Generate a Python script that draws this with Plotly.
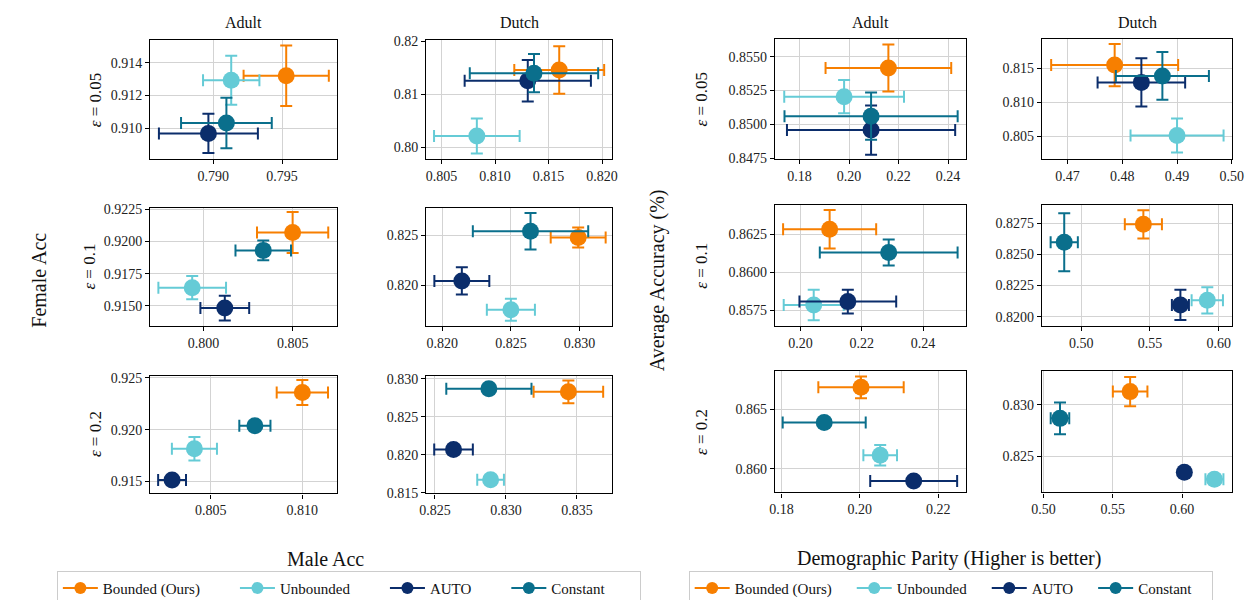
import plotly.graph_objects as go

# ---------------- data (panel order: left group Adult/Dutch x 3 eps, right group Adult/Dutch x 3 eps)
methods = ["Bounded (Ours)", "Unbounded", "AUTO", "Constant"]
colors = ["#F77F00", "#65CBD6", "#0B2D6B", "#0A6F8C"]
eps_labels = ["<i>ε</i> = 0.05", "<i>ε</i> = 0.1", "<i>ε</i> = 0.2"]
datasets = ["Adult", "Dutch"]

bounded_x = [0.7953, 0.8160, 0.8050, 0.8299, 0.8100, 0.8344, 0.2159, 0.4786, 0.2095, 0.5452, 0.2003, 0.5625]
bounded_xerr = [0.0031, 0.0042, 0.0020, 0.0020, 0.0014, 0.00245, 0.0254, 0.0116, 0.0152, 0.0135, 0.0109, 0.0125]
bounded_y = [0.9132, 0.8146, 0.9207, 0.8248, 0.9236, 0.8283, 0.85416, 0.8155, 0.86282, 0.82742, 0.86687, 0.83126]
bounded_yerr = [0.00185, 0.0045, 0.0016, 0.0010, 0.0012, 0.0015, 0.00174, 0.0031, 0.00127, 0.00114, 0.00091, 0.00142]

unbounded_x = [0.7913, 0.8083, 0.79936, 0.8250, 0.80411, 0.82892, 0.1980, 0.4900, 0.2043, 0.5917, 0.2052, 0.6234]
unbounded_xerr = [0.00205, 0.0040, 0.0019, 0.00175, 0.00123, 0.00094, 0.0242, 0.0085, 0.0098, 0.0114, 0.0043, 0.0065]
unbounded_y = [0.91293, 0.80215, 0.91641, 0.81753, 0.91817, 0.81671, 0.85204, 0.80514, 0.85784, 0.82131, 0.86115, 0.8228]
unbounded_yerr = [0.0015, 0.0033, 0.0009, 0.0011, 0.00114, 0.0005, 0.00123, 0.0025, 0.0010, 0.00105, 0.00087, 0.0003]

auto_x = [0.78964, 0.81306, 0.80119, 0.82143, 0.80289, 0.82631, 0.2089, 0.48348, 0.21544, 0.57214, 0.21375, 0.60165]
auto_xerr = [0.0036, 0.0059, 0.00137, 0.0020, 0.00076, 0.00136, 0.0340, 0.0080, 0.0158, 0.0062, 0.0111, 0.002]
auto_y = [0.90968, 0.81258, 0.91482, 0.82043, 0.91516, 0.82069, 0.84957, 0.81296, 0.85806, 0.82094, 0.85898, 0.82349]
auto_yerr = [0.0012, 0.0039, 0.00097, 0.00137, 0.0003, 0.0003, 0.00182, 0.00355, 0.00078, 0.00122, 0.0002, 0.0002]

constant_x = [0.79095, 0.81364, 0.80335, 0.82643, 0.80741, 0.8288, 0.2089, 0.48732, 0.22879, 0.48762, 0.1909, 0.51182]
constant_xerr = [0.0033, 0.0060, 0.00156, 0.0042, 0.00085, 0.0030, 0.0350, 0.0085, 0.0225, 0.0099, 0.0106, 0.0067]
constant_y = [0.91032, 0.8140, 0.91931, 0.82543, 0.92038, 0.82871, 0.8506, 0.81391, 0.86129, 0.82597, 0.8639, 0.82868]
constant_yerr = [0.00154, 0.0036, 0.00076, 0.00184, 0.0003, 0.0005, 0.00174, 0.0035, 0.00086, 0.00233, 0.0002, 0.00154]

x_ticks = [[0.790, 0.795], [0.805, 0.810, 0.815, 0.820], [0.800, 0.805], [0.820, 0.825, 0.830],
           [0.805, 0.810], [0.825, 0.830, 0.835],
           [0.18, 0.20, 0.22, 0.24], [0.47, 0.48, 0.49, 0.50], [0.20, 0.22, 0.24], [0.50, 0.55, 0.60],
           [0.18, 0.20, 0.22], [0.50, 0.55, 0.60]]
x_fmt = [".3f", ".3f", ".3f", ".3f", ".3f", ".3f", ".2f", ".2f", ".2f", ".2f", ".2f", ".2f"]
y_ticks = [[0.910, 0.912, 0.914], [0.80, 0.81, 0.82], [0.9150, 0.9175, 0.9200, 0.9225], [0.820, 0.825],
           [0.915, 0.920, 0.925], [0.815, 0.820, 0.825, 0.830],
           [0.8475, 0.8500, 0.8525, 0.8550], [0.805, 0.810, 0.815], [0.8575, 0.8600, 0.8625],
           [0.8200, 0.8225, 0.8250, 0.8275], [0.860, 0.865], [0.825, 0.830]]
y_fmt = [".3f", ".2f", ".4f", ".3f", ".3f", ".3f", ".4f", ".3f", ".4f", ".4f", ".3f", ".3f"]
x_ranges = [[0.78541, 0.79898], [0.80356, 0.82093], [0.797004, 0.80748], [0.81883, 0.83236],
            [0.80170, 0.81188], [0.82438, 0.83747], [0.17004, 0.24743], [0.46532, 0.50012],
            [0.19164, 0.25416], [0.47143, 0.61], [0.17832, 0.22721], [0.49882, 0.63641]]
y_ranges = [[0.90813, 0.91536], [0.79785, 0.82018], [0.91342, 0.92263], [0.81589, 0.8278],
            [0.91386, 0.92522], [0.81491, 0.83043], [0.84745, 0.85627], [0.80173, 0.81927],
            [0.85645, 0.86443], [0.81924, 0.82899], [0.85802, 0.86824], [0.82154, 0.83324]]

series = [
    (bounded_x, bounded_xerr, bounded_y, bounded_yerr),
    (unbounded_x, unbounded_xerr, unbounded_y, unbounded_yerr),
    (auto_x, auto_xerr, auto_y, auto_yerr),
    (constant_x, constant_xerr, constant_y, constant_yerr),
]

# ---------------- layout geometry (screen pixels; page body has an 8px offset)
W, H = 1260, 600
OFF = 8
FONT = "Liberation Serif"
left_cols = [(141.7, 331.7), (422.7, 612.0)]
left_rows = [(35, 156), (206, 327), (377.7, 498)]
right_cols = [(778, 973), (1050, 1244)]
right_rows = [(34, 156), (203, 327), (373, 497)]


def fx(p):
    return (p - OFF) / W


def fy(p):
    return 1 - (p - OFF) / H


fig = go.Figure()
layout = {}
for i in range(12):
    group = i // 6
    row = (i % 6) // 2
    col = i % 2
    cols = left_cols if group == 0 else right_cols
    rows = left_rows if group == 0 else right_rows
    xd = [fx(cols[col][0]), fx(cols[col][1])]
    yd = [fy(rows[row][1]), fy(rows[row][0])]
    n = i + 1
    xk = "xaxis" if n == 1 else f"xaxis{n}"
    yk = "yaxis" if n == 1 else f"yaxis{n}"
    xa = "x" if n == 1 else f"x{n}"
    ya = "y" if n == 1 else f"y{n}"
    common = dict(showline=True, linecolor="black", linewidth=1.3, mirror=True,
                  showgrid=True, gridcolor="#d3d3d3", gridwidth=1, zeroline=False,
                  ticks="outside", ticklen=4, tickwidth=1, tickcolor="black",
                  tickfont=dict(family=FONT, size=14, color="#222"))
    layout[xk] = dict(domain=xd, anchor=ya, range=x_ranges[i], tickvals=x_ticks[i],
                      tickformat=x_fmt[i], **common)
    layout[yk] = dict(domain=yd, anchor=xa, range=y_ranges[i], tickvals=y_ticks[i],
                      tickformat=y_fmt[i], **common)
    for m, (sx, sxe, sy, sye) in enumerate(series):
        fig.add_trace(go.Scatter(
            x=[sx[i]], y=[sy[i]], xaxis=xa, yaxis=ya, mode="markers",
            marker=dict(color=colors[m], size=17),
            error_x=dict(type="data", array=[sxe[i]], color=colors[m], thickness=2, width=6),
            error_y=dict(type="data", array=[sye[i]], color=colors[m], thickness=2, width=6),
            showlegend=False, hoverinfo="x+y"))

# legend-only traces
for lg, pad in [("legend", 8), ("legend2", 4)]:
    for m, name in enumerate(methods):
        fig.add_trace(go.Scatter(
            x=[None], y=[None], mode="lines+markers", name=name + "\u00a0" * pad, legend=lg,
            line=dict(color=colors[m], width=2), marker=dict(color=colors[m], size=12),
            showlegend=True))

annotations = []
# column titles
for cols in (left_cols, right_cols):
    for c, name in enumerate(datasets):
        annotations.append(dict(x=fx((cols[c][0] + cols[c][1]) / 2), y=fy(17), xref="paper", yref="paper",
                                text=name, showarrow=False, font=dict(family=FONT, size=16, color="#111"),
                                xanchor="center", yanchor="middle"))
# row labels
left_eps_x = [86, 80, 86]
for r in range(3):
    annotations.append(dict(x=fx(left_eps_x[r]), y=fy((left_rows[r][0] + left_rows[r][1]) / 2),
                            xref="paper", yref="paper", text=eps_labels[r], textangle=-90, showarrow=False,
                            font=dict(family=FONT, size=17, color="#111"), xanchor="center", yanchor="middle"))
    annotations.append(dict(x=fx(703), y=fy((right_rows[r][0] + right_rows[r][1]) / 2),
                            xref="paper", yref="paper", text=eps_labels[r], textangle=-90, showarrow=False,
                            font=dict(family=FONT, size=17, color="#111"), xanchor="center", yanchor="middle"))
# group axis titles
annotations += [
    dict(x=fx(28), y=fy(280), text="Female Acc", textangle=-90),
    dict(x=fx(320), y=fy(565), text="Male Acc", textangle=0),
    dict(x=fx(658), y=fy(280), text="Average Accuracy (%)", textangle=-90),
    dict(x=fx(955), y=fy(565), text="Demographic Parity (Higher is better)", textangle=0),
]
for a in annotations[-4:]:
    a.update(xref="paper", yref="paper", showarrow=False, xanchor="center", yanchor="middle",
             font=dict(family=FONT, size=20, color="#111"))

legend_common = dict(orientation="h", yanchor="top", y=fy(577), xanchor="center",
                     bordercolor="#cccccc", borderwidth=1, bgcolor="white",
                     font=dict(family=FONT, size=15, color="#111"), itemwidth=35,
                     tracegroupgap=0)

fig.update_layout(
    width=W, height=H, margin=dict(l=0, r=0, t=0, b=0),
    paper_bgcolor="white", plot_bgcolor="white",
    annotations=annotations,
    legend=dict(x=fx(344), **legend_common),
    legend2=dict(x=fx(957), **legend_common),
    **layout,
)

fig.write_html("out.html")
